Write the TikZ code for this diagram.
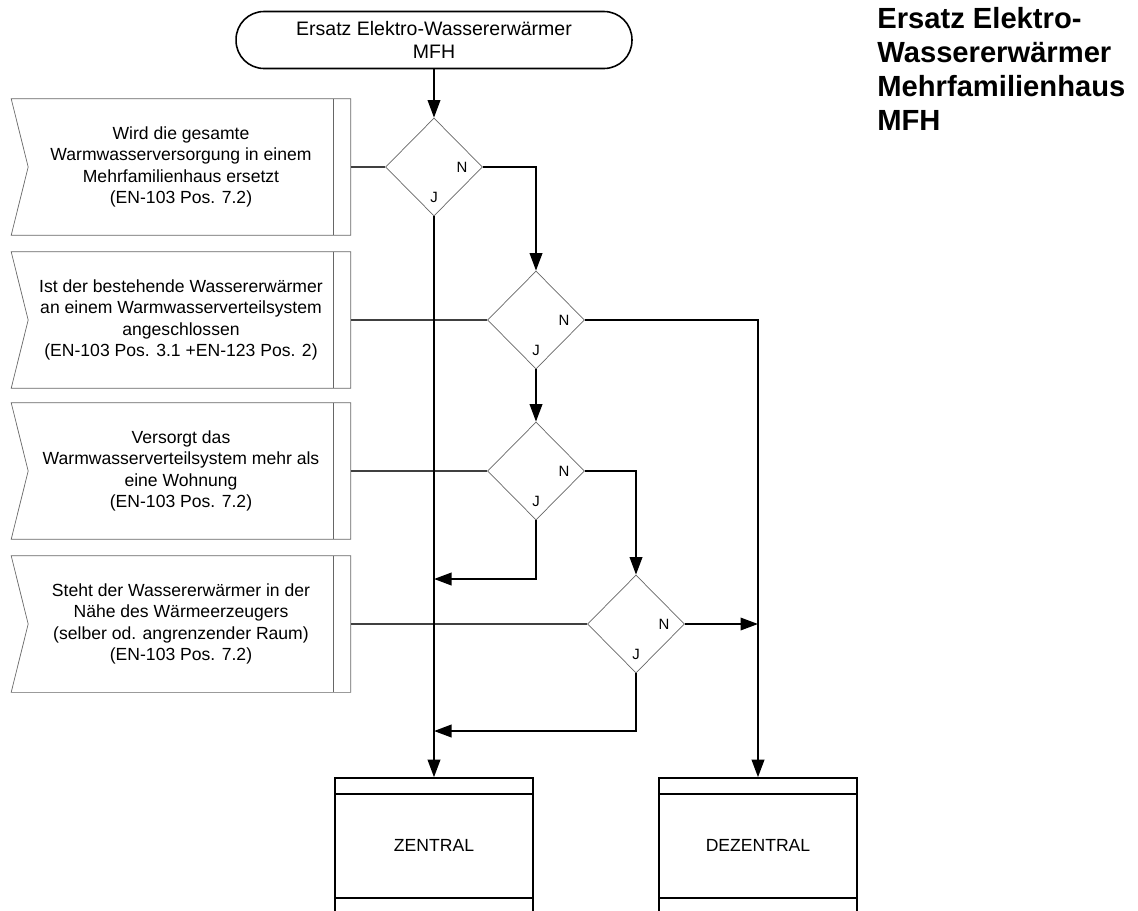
\documentclass[tikz,border=0pt]{standalone}
\usepackage{fontspec}
\setmainfont{Liberation Sans}
\usetikzlibrary{shapes.geometric,arrows.meta}
\tikzset{
  cond/.style={minimum width=6.78cm, minimum height=2.72cm, inner sep=0pt, align=center, font=\fontsize{10}{12.2}\selectfont},
  dec/.style={draw=black!60, diamond, minimum width=1.94cm, minimum height=1.96cm, inner sep=0pt},
  yn/.style={inner sep=0pt, font=\fontsize{8.5}{10}\selectfont},
  endbox/.style={draw, line width=0.9pt, minimum width=3.96cm, minimum height=2.68cm, font=\fontsize{10}{12}\selectfont},
  flow/.style={line width=1.1pt, -{Triangle[length=0.35cm,width=0.25cm]}},
  link/.style={line width=0.6pt, draw=black!75}
}
\begin{document}
\begin{tikzpicture}[x=0.02cm,y=-0.02cm]
\useasboundingbox (0,0) rectangle (1138,910);
\clip (0,0) rectangle (1138,910);
% start and title
\node[draw, line width=0.9pt, rounded corners=0.56cm, minimum width=7.92cm, minimum height=1.14cm, align=center, font=\fontsize{11.1}{12.8}\selectfont] (start) at (434,40) {Ersatz Elektro-Wassererwärmer\\MFH};
\node[anchor=north west, inner sep=0pt, align=left, font=\fontsize{16.6}{19.3}\selectfont\bfseries] (title) at (877,7) {Ersatz Elektro-\\Wassererwärmer\\Mehrfamilienhaus\\MFH};
% conditions
\node[cond] (c1) at (181,167) {Wird die gesamte\\Warmwasserversorgung in einem\\Mehrfamilienhaus ersetzt\\(EN-103 Pos. 7.2)};
\node[cond] (c2) at (181,320) {Ist der bestehende Wassererwärmer\\an einem Warmwasserverteilsystem\\angeschlossen\\(EN-103 Pos. 3.1 +EN-123 Pos. 2)};
\node[cond] (c3) at (181,471) {Versorgt das\\Warmwasserverteilsystem mehr als\\eine Wohnung\\(EN-103 Pos. 7.2)};
\node[cond] (c4) at (181,624) {Steht der Wassererwärmer in der\\Nähe des Wärmeerzeugers\\(selber od. angrenzender Raum)\\(EN-103 Pos. 7.2)};
\foreach \c in {c1,c2,c3,c4}{
  \draw[black!60] (\c.north west) -- (\c.north east) -- (\c.south east) -- (\c.south west) -- ([xshift=0.34cm]\c.west) -- cycle;
  \draw[black!60] ([xshift=-0.34cm]\c.north east) -- ([xshift=-0.34cm]\c.south east);
}
% decisions
\node[dec] (q1) at (434,167) {};
\node[dec] (q2) at (536,320) {};
\node[dec] (q3) at (536,471) {};
\node[dec] (q4) at (636,624) {};
\foreach \q in {q1,q2,q3,q4}{
  \node[yn] (\q n) at ([xshift=0.56cm]\q) {N};
  \node[yn] (\q j) at ([yshift=-0.6cm]\q) {J};
}
% results
\node[endbox] (zentral) at (434,845) {ZENTRAL};
\node[endbox] (dezentral) at (758,845) {DEZENTRAL};
\foreach \e in {zentral,dezentral}{
  \draw[line width=0.9pt] ([yshift=-0.34cm]\e.north west) -- ([yshift=-0.34cm]\e.north east);
  \draw[line width=0.9pt] ([yshift=0.3cm]\e.south west) -- ([yshift=0.3cm]\e.south east);
}
\coordinate (j3) at (434,579);
\coordinate (j4) at (434,731);
\coordinate (n4) at (dezentral.north |- q4.east);
% connectors
\draw[link] (c1.east) -- (q1.west);
\draw[link] (c2.east) -- (q2.west);
\draw[link] (c3.east) -- (q3.west);
\draw[link] (c4.east) -- (q4.west);
\draw[flow] (start.south) -- (q1.north);
\draw[flow] (q1.south) -- (zentral.north);
\draw[flow] (q1.east) -| (q2.north);
\draw[flow] (q2.east) -| (dezentral.north);
\draw[flow] (q2.south) -- (q3.north);
\draw[flow] (q3.east) -| (q4.north);
\draw[flow] (q3.south) |- (j3);
\draw[flow] (q4.east) -- (n4);
\draw[flow] (q4.south) |- (j4);
\end{tikzpicture}
\end{document}
